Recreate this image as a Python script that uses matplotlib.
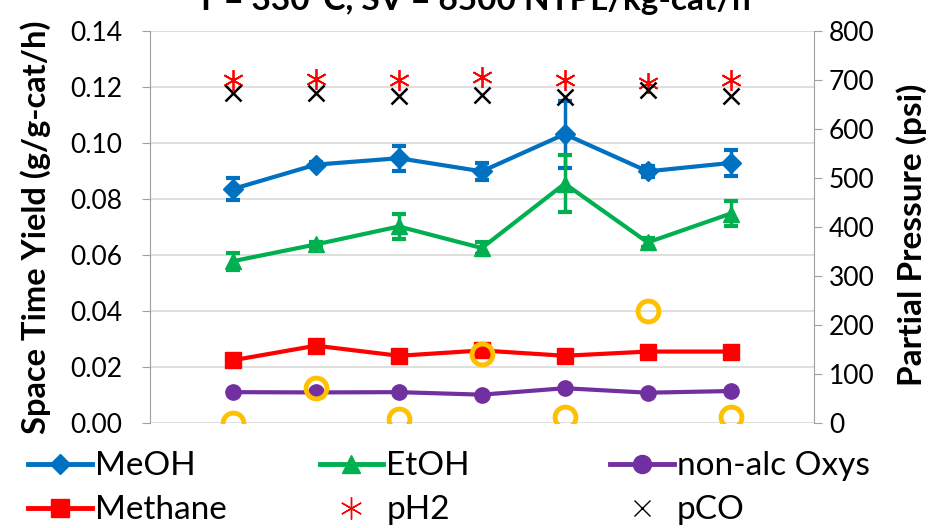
import matplotlib.pyplot as plt
from matplotlib.lines import Line2D

plt.rcParams['font.family'] = ['Lato', 'DejaVu Sans']

x = [1, 2, 3, 4, 5, 6, 7]

meoh = [0.0836, 0.0923, 0.0946, 0.0899, 0.1032, 0.0899, 0.0929]
meoh_err = [0.0040, 0.0010, 0.0045, 0.0030, 0.0120, 0.0020, 0.0045]
etoh = [0.0578, 0.0638, 0.0702, 0.0625, 0.0855, 0.0645, 0.0748]
etoh_err = [0.0030, 0.0010, 0.0045, 0.0020, 0.0103, 0.0015, 0.0045]
methane = [0.0224, 0.0276, 0.0240, 0.0259, 0.0240, 0.0255, 0.0255]
oxys = [0.0110, 0.0109, 0.0110, 0.0101, 0.0124, 0.0108, 0.0114]
other = [0.0000, 0.0126, 0.0014, 0.0248, 0.0020, 0.0400, 0.0020]

ph2 = [700, 702, 700, 706, 700, 694, 700]
pco = [673, 674, 667, 670, 666, 679, 667]

blue = '#0070C0'
green = '#00B050'
red = '#FF0000'
purple = '#7030A0'
gold = '#FFC000'

fig = plt.figure(figsize=(9.46, 5.28), dpi=100)
ax = fig.add_axes([0.1586, 0.199, 0.7014, 0.742])
ax2 = ax.twinx()

ax.errorbar(x, meoh, yerr=meoh_err, color=blue, lw=3, marker='D', ms=10,
            capsize=5, capthick=3, elinewidth=2.5, zorder=5)
ax.errorbar(x, etoh, yerr=etoh_err, color=green, lw=3, marker='^', ms=12,
            capsize=5, capthick=3, elinewidth=2.5, zorder=5)
ax.plot(x, methane, color=red, lw=3, marker='s', ms=12, zorder=5)
ax.plot(x, oxys, color=purple, lw=3, marker='o', ms=11, zorder=5)
ax.plot(x, other, ls='none', marker='o', ms=15, mfc='none', mec=gold,
        mew=3.5, zorder=6)

ax2.plot(x, ph2, ls='none', marker=(6, 2, 0), ms=15, mec=red, mew=1.3)
ax2.plot(x, pco, ls='none', marker='x', ms=12, mec='black', mew=1.8)

ax.set_xlim(0, 8)
ax.set_ylim(0, 0.14)
ax.set_yticks([0, 0.02, 0.04, 0.06, 0.08, 0.10, 0.12, 0.14])
ax.set_yticklabels(['0.00', '0.02', '0.04', '0.06', '0.08', '0.10', '0.12', '0.14'])
ax2.set_ylim(0, 800)
ax2.set_yticks(range(0, 801, 100))
ax.set_xticks([])

ax.grid(axis='y', color='#D9D9D9', lw=1.2)
ax.set_axisbelow(True)
for a in (ax, ax2):
    a.spines['top'].set_visible(False)
    a.spines['bottom'].set_visible(False)
    a.spines['left'].set_color('#A0A0A0')
    a.spines['right'].set_color('#A0A0A0')
    a.tick_params(axis='y', colors='#A0A0A0', labelcolor='black',
                  labelsize=19, length=6, direction='out', pad=5)
ax.tick_params(axis='y', pad=14)
ax2.spines['left'].set_visible(False)
ax.spines['right'].set_visible(False)

ax.set_ylabel('Space Time Yield (g/g-cat/h)', fontsize=23.5, fontweight='bold')
ax.yaxis.set_label_coords(-0.149, 0.50)
ax2.set_ylabel('Partial Pressure (psi)', fontsize=24, fontweight='bold',
               rotation=90)
ax2.yaxis.set_label_coords(1.124, 0.48)

fig.text(0.50, 1.0, 'T = 330°C, SV = 6500 NTPL/kg-cat/h', fontsize=24,
         fontweight='bold', ha='center', va='center')

handles = [
    Line2D([], [], color=blue, lw=3.5, marker='D', ms=10),
    Line2D([], [], color=red, lw=3.5, marker='s', ms=13),
    Line2D([], [], color=green, lw=3.5, marker='^', ms=13),
    Line2D([], [], ls='none', marker=(6, 2, 0), ms=16, mec=red, mew=1),
    Line2D([], [], color=purple, lw=3.5, marker='o', ms=13),
    Line2D([], [], ls='none', marker='x', ms=12, mec='black', mew=1),
]
labels = ['MeOH', 'Methane', 'EtOH', 'pH2', 'non-alc Oxys', 'pCO']
col_x = [0.03, 0.338, 0.645]
for i, cx in enumerate(col_x):
    leg = fig.legend(handles[2 * i:2 * i + 2], labels[2 * i:2 * i + 2],
                     loc='upper left', bbox_to_anchor=(cx, 0.145),
                     frameon=False, fontsize=24, handlelength=1.9,
                     handletextpad=0.1, labelspacing=0.42, borderaxespad=0,
                     borderpad=0)

fig.savefig('out.png', dpi=100)
